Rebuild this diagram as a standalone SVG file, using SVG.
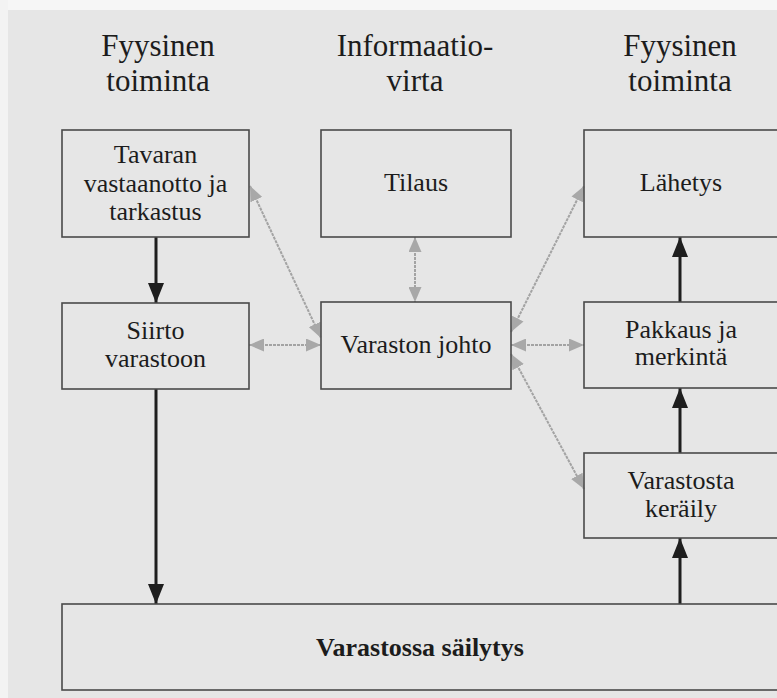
<svg xmlns="http://www.w3.org/2000/svg" width="777" height="698" viewBox="0 0 777 698">
  <style>
    .box { fill: none; stroke: #4a4a4a; stroke-width: 1.6; }
    .t { font-family: "Liberation Serif", "Times New Roman", serif; font-size: 26px; fill: #1c1c1c; text-anchor: middle; }
    .h { font-family: "Liberation Serif", "Times New Roman", serif; font-size: 31px; fill: #1c1c1c; text-anchor: middle; }
    .b { font-weight: bold; }
    .flow { stroke: #1e1e1e; stroke-width: 3; fill: none; marker-end: url(#blk); }
    .info { stroke: #a3a3a3; stroke-width: 2; stroke-dasharray: 3 1; fill: none; marker-start: url(#gry); marker-end: url(#gry); }
  </style>
  <defs>
    <marker id="blk" markerUnits="userSpaceOnUse" markerWidth="20" markerHeight="16" refX="20" refY="8" orient="auto">
      <path d="M0,0 L20,8 L0,16 Z" fill="#1e1e1e"/>
    </marker>
    <marker id="gry" markerUnits="userSpaceOnUse" markerWidth="15" markerHeight="13" refX="15" refY="6.5" orient="auto-start-reverse">
      <path d="M0,0 L15,6.5 L0,13 Z" fill="#a8a8a8"/>
    </marker>
  </defs>

  <rect x="0" y="0" width="777" height="698" fill="#e6e6e6"/>
  <rect x="0" y="0" width="777" height="10" fill="#f6f6f6"/>
  <rect x="0" y="0" width="8" height="698" fill="#f3f3f3"/>

  <g id="headers">
    <text class="h" x="158" y="56">Fyysinen</text>
    <text class="h" x="158" y="91">toiminta</text>
    <text class="h" x="415" y="56">Informaatio-</text>
    <text class="h" x="415" y="91">virta</text>
    <text class="h" x="680" y="56">Fyysinen</text>
    <text class="h" x="680" y="91">toiminta</text>
  </g>

  <g id="connectors">
    <line class="flow" x1="156" y1="237" x2="156" y2="303"/>
    <line class="flow" x1="156" y1="389" x2="156" y2="604"/>
    <line class="flow" x1="680" y1="604" x2="680" y2="538"/>
    <line class="flow" x1="680" y1="453" x2="680" y2="388"/>
    <line class="flow" x1="680" y1="302" x2="680" y2="237"/>
    <line class="info" x1="250" y1="186" x2="321" y2="338"/>
    <line class="info" x1="415" y1="237" x2="415" y2="302"/>
    <line class="info" x1="511" y1="332" x2="584" y2="186"/>
    <line class="info" x1="249" y1="345" x2="321" y2="345"/>
    <line class="info" x1="511" y1="345" x2="584" y2="345"/>
    <line class="info" x1="511" y1="354" x2="584" y2="489"/>
  </g>

  <g id="tavaran">
    <rect class="box" x="62" y="130" width="187" height="107"/>
    <text class="t" x="155.5" y="163">Tavaran</text>
    <text class="t" x="155.5" y="192">vastaanotto ja</text>
    <text class="t" x="155.5" y="220">tarkastus</text>
  </g>
  <g id="tilaus">
    <rect class="box" x="321" y="130" width="190" height="107"/>
    <text class="t" x="416" y="191">Tilaus</text>
  </g>
  <g id="lahetys">
    <rect class="box" x="584" y="130" width="210" height="107"/>
    <text class="t" x="681" y="191">Lähetys</text>
  </g>
  <g id="siirto">
    <rect class="box" x="62" y="303" width="187" height="86"/>
    <text class="t" x="155.5" y="339">Siirto</text>
    <text class="t" x="155.5" y="367">varastoon</text>
  </g>
  <g id="varaston-johto">
    <rect class="box" x="321" y="302" width="190" height="87"/>
    <text class="t" x="416" y="353">Varaston johto</text>
  </g>
  <g id="pakkaus">
    <rect class="box" x="584" y="302" width="210" height="86"/>
    <text class="t" x="681" y="338">Pakkaus ja</text>
    <text class="t" x="681" y="365">merkintä</text>
  </g>
  <g id="keraily">
    <rect class="box" x="584" y="453" width="210" height="85"/>
    <text class="t" x="681" y="489">Varastosta</text>
    <text class="t" x="681" y="517">keräily</text>
  </g>
  <g id="sailytys">
    <rect class="box" x="62" y="604" width="732" height="86"/>
    <text class="t b" x="420" y="656">Varastossa säilytys</text>
  </g>
</svg>
